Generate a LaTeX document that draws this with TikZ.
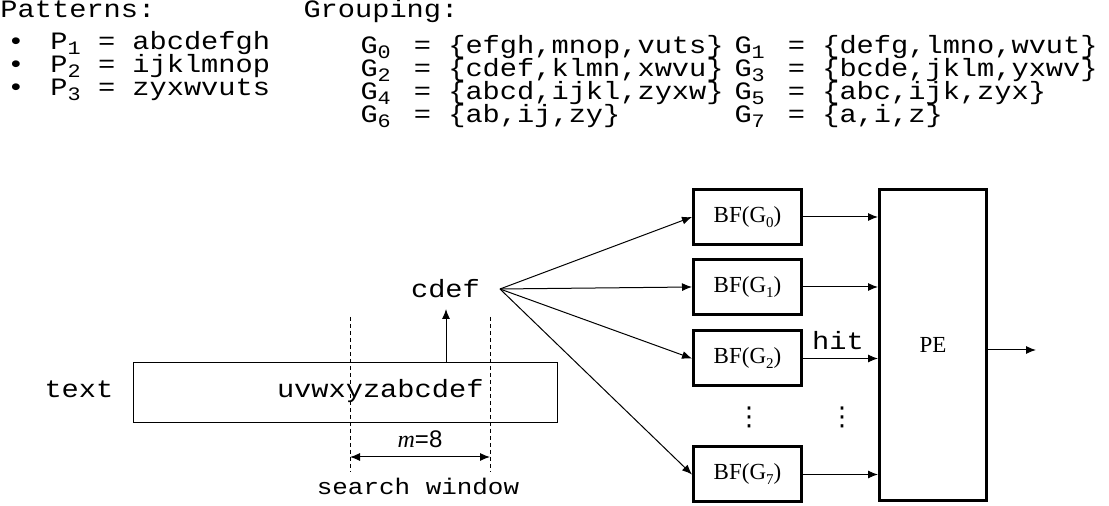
\documentclass[tikz,border=0pt]{standalone}
\usepackage{fontspec}
\setmainfont{Liberation Serif}
\setsansfont{Liberation Sans}
\setmonofont{Liberation Mono}[FakeStretch=1.147]
\newfontfamily\dotsfont{DejaVu Sans}
\usetikzlibrary{arrows.meta,positioning}
\newcommand\gsub[1]{\raisebox{-2.2pt}{\fontsize{9.5}{9.5}\selectfont #1}}
\newcommand\wsub[1]{\makebox[9.5pt][l]{\gsub{#1}}}
\newcommand\bfsub[1]{\raisebox{-2.5pt}{\fontsize{7.5}{7.5}\selectfont #1}}
\tikzset{
  mono/.style={font=\fontsize{12.5}{15}\ttfamily, inner sep=0pt, anchor=base west},
  filterbox/.style={draw, line width=1.5pt, minimum width=54pt, minimum height=27.5pt, inner sep=0pt, font=\fontsize{11.5}{13}\selectfont},
  window/.style={dashed, dash pattern=on 2pt off 1.5pt},
  dots/.style={inner sep=0pt, font=\fontsize{13}{13}\dotsfont},
}
\begin{document}
\begin{tikzpicture}[x=0.5pt, y=-0.5pt, >={Latex[length=5pt,width=4pt]}, line width=0.5pt]
\useasboundingbox (0,0) rectangle (1109,506);
% patterns
\node[mono] (pat) at (0,18) {Patterns:};
\node[mono] (p1) at (7,50) {\textbullet\hspace{12.9pt}P\gsub{1} = abcdefgh};
\node[mono] (p2) at (7,73) {\textbullet\hspace{12.9pt}P\gsub{2} = ijklmnop};
\node[mono] (p3) at (7,96) {\textbullet\hspace{12.9pt}P\gsub{3} = zyxwvuts};
% grouping
\node[mono] (grp) at (303,18) {Grouping:};
\node[mono] (g0) at (360,54) {G\wsub{0} = \{efgh,mnop,vuts\}};
\node[mono] (g1) at (734,54) {G\wsub{1} = \{defg,lmno,wvut\}};
\node[mono] (g2) at (360,77) {G\wsub{2} = \{cdef,klmn,xwvu\}};
\node[mono] (g3) at (734,77) {G\wsub{3} = \{bcde,jklm,yxwv\}};
\node[mono] (g4) at (360,100) {G\wsub{4} = \{abcd,ijkl,zyxw\}};
\node[mono] (g5) at (734,100) {G\wsub{5} = \{abc,ijk,zyx\}};
\node[mono] (g6) at (360,123) {G\wsub{6} = \{ab,ij,zy\}};
\node[mono] (g7) at (734,123) {G\wsub{7} = \{a,i,z\}};

% text and search window
\node[mono] (lbl) at (44,398) {text};
\node[draw, minimum width=212pt, minimum height=30pt, inner sep=0pt] (win) at (345.5,392.5) {};
\node[mono, anchor=base east] (str) at (484,398) {uvwxyzabcdef};
\coordinate (d1t) at (350,317);
\coordinate (d1b) at (350,472);
\coordinate (d2t) at (490,317);
\coordinate (d2b) at (490,472);
\draw[window] (d1t) -- (d1b);
\draw[window] (d2t) -- (d2b);
\coordinate (m1) at (350,457);
\coordinate (m2) at (490,457);
\draw[<->] (m1) -- node[anchor=base, yshift=4.5pt, inner sep=0pt, font=\fontsize{12}{14}\selectfont] {\textit{m}\sffamily=8} (m2);
\node[mono, anchor=base, font=\fontsize{11.3}{14}\ttfamily] (sw) at (418,495) {search window};

% key
\node[mono, anchor=base] (key) at (445.5,298) {cdef};
\coordinate (up) at (446,309);
\draw[->] (win.north -| up) -- (up);
\coordinate (fan) at (500,289);

% bloom filters
\node[filterbox] (bf0) at (747.5,217) {BF(G\bfsub{0})};
\node[filterbox] (bf1) at (747.5,287) {BF(G\bfsub{1})};
\node[filterbox] (bf2) at (747.5,358.5) {BF(G\bfsub{2})};
\node[filterbox] (bf7) at (747.5,474.5) {BF(G\bfsub{7})};
\node[draw, line width=1.5pt, minimum width=53.5pt, minimum height=155.5pt, inner sep=0pt, font=\fontsize{11.5}{13}\selectfont] (pe) at (933,345) {PE};

\foreach \i in {0,1,2,7} {
  \draw[->] (fan) -- (bf\i.west);
  \draw[->] (bf\i.east) -- (bf\i.east -| pe.west);
}
\node[mono, anchor=base] (hit) at (838,350) {hit};
\node[dots] (vd1) at (749,417) {⋮};
\node[dots] (vd2) at (842,417) {⋮};
\coordinate (out) at (1036,350);
\draw[->] (pe.east |- out) -- (out);
\end{tikzpicture}
\end{document}
